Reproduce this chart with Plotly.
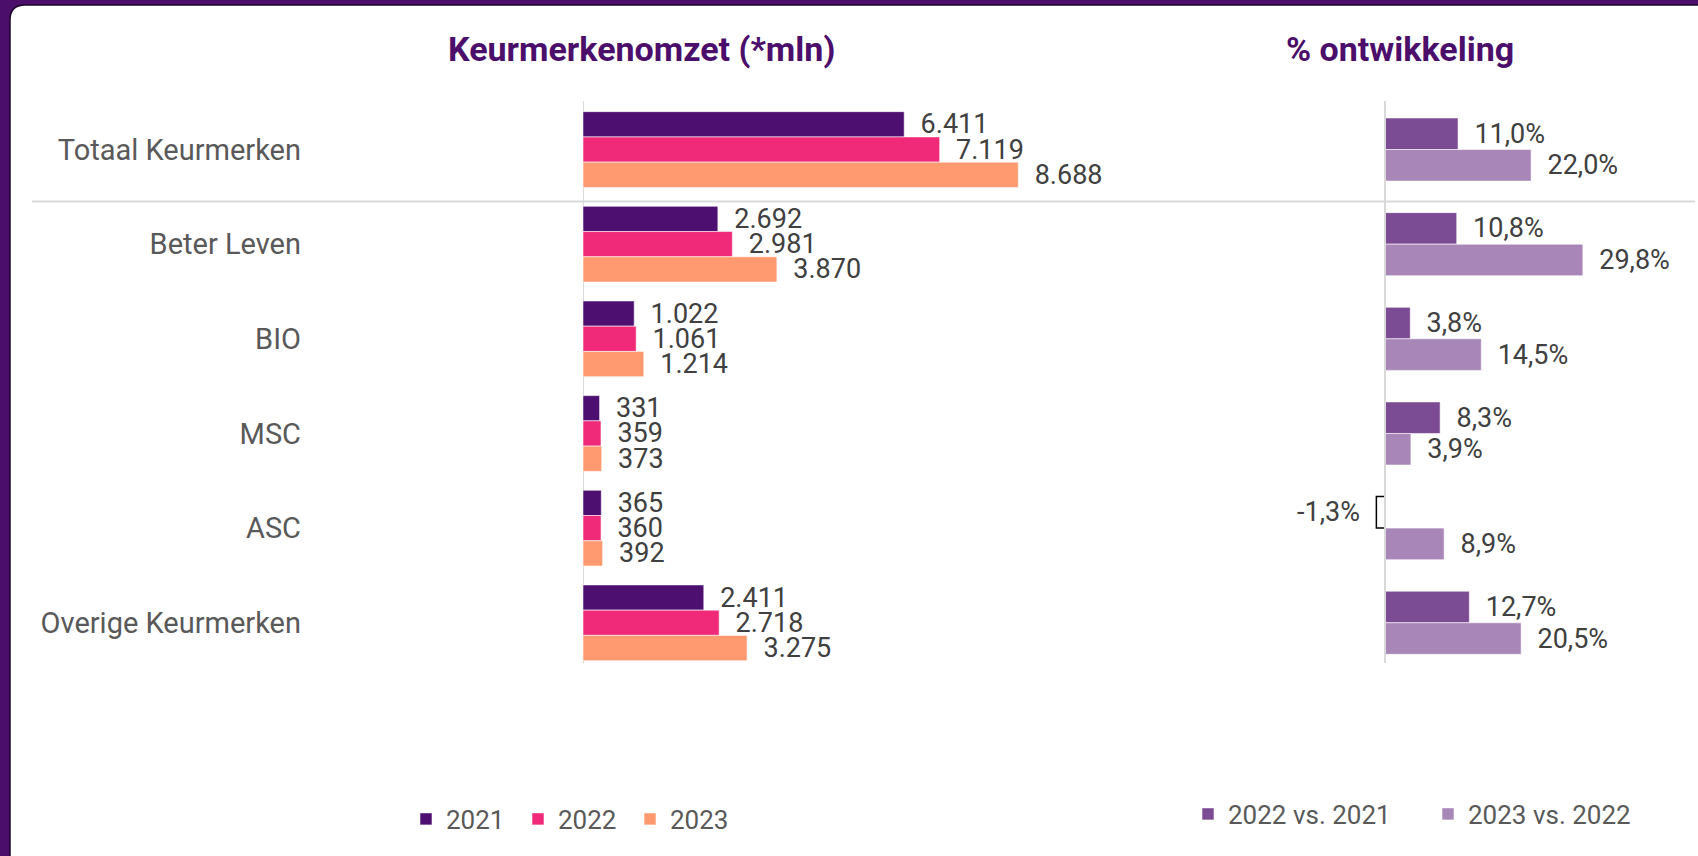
import plotly.graph_objects as go

# ---------------- data ----------------
categories = ["Totaal Keurmerken", "Beter Leven", "BIO", "MSC", "ASC", "Overige Keurmerken"]
omzet_2021 = [6411, 2692, 1022, 331, 365, 2411]
omzet_2022 = [7119, 2981, 1061, 359, 360, 2718]
omzet_2023 = [8688, 3870, 1214, 373, 392, 3275]
ontw_22_21 = [11.0, 10.8, 3.8, 8.3, -1.3, 12.7]
ontw_23_22 = [22.0, 29.8, 14.5, 3.9, 8.9, 20.5]
series_left = ["2021", "2022", "2023"]
series_right = ["2022 vs. 2021", "2023 vs. 2022"]

# ---------------- style ----------------
W, H = 1698, 856
FONT = "Roboto"
PURPLE = "#4B0F6B"
COL_LEFT = ["#4D1070", "#F02A78", "#FF9A70"]
COL_RIGHT = ["#7B4B94", "#A887B8"]
LABEL = "#404040"
CATCOL = "#595959"
GRID = "#D9D9D9"
NB = "\u00a0\u00a0"


def px(x):
    return x / W


def py(y):
    return 1 - y / H


def fmt_int(v):
    return f"{v:,}".replace(",", ".")


def fmt_pct(v):
    s = f"{v:.1f}%".replace(".", ",")
    return s + NB if v < 0 else NB + s


# plot geometry (pixels)
Y_TOP, Y_BOT = 102.2, 670.1
L_X0, L_X1, L_PPU = 583.0, 1250.0, 0.0501
R_AX, R_X0, R_X1, R_PPU = 1385.0, 1360.0, 1690.0, 6.64

fig = go.Figure()

# left panel bars
lw = 0.8 / 3
for i, (name, vals) in enumerate(zip(series_left, [omzet_2021, omzet_2022, omzet_2023])):
    fig.add_trace(go.Bar(
        name=name, y=categories, x=vals, orientation="h",
        xaxis="x", yaxis="y",
        width=lw, offset=-0.4 + i * lw,
        marker=dict(color=COL_LEFT[i], line=dict(color="rgba(255,255,255,0.55)", width=1)),
        text=[NB + fmt_int(v) for v in vals], textposition="outside",
        textfont=dict(family=FONT, size=27, color=LABEL),
        constraintext="none", cliponaxis=False, textangle=0,
        legend="legend", hoverinfo="x+y",
    ))

# right panel bars
rw = 1 / 3
for i, (name, vals) in enumerate(zip(series_right, [ontw_22_21, ontw_23_22])):
    fills = ["#FFFFFF" if v < 0 else COL_RIGHT[i] for v in vals]
    lines = ["#000000" if v < 0 else "rgba(255,255,255,0.55)" for v in vals]
    widths = [1.5 if v < 0 else 1 for v in vals]
    fig.add_trace(go.Bar(
        name=name, y=categories, x=vals, orientation="h",
        xaxis="x2", yaxis="y2",
        width=rw, offset=-rw + i * rw,
        marker=dict(color=fills, line=dict(color=lines, width=widths)),
        text=[fmt_pct(v) for v in vals], textposition="outside",
        textfont=dict(family=FONT, size=27, color=LABEL),
        constraintext="none", cliponaxis=False, textangle=0,
        legend="legend2", hoverinfo="x+y",
    ))

shapes = [
    # white card with rounded top-left corner
    dict(type="path", xref="paper", yref="paper", layer="below",
         path=(f"M {px(10)},{py(880)} L {px(10)},{py(20)} Q {px(10)},{py(5)} {px(25)},{py(5)} "
               f"L {px(1720)},{py(5)} L {px(1720)},{py(880)} Z"),
         fillcolor="#FFFFFF", line=dict(color="#1A0526", width=1.5)),
    # separator below totals
    dict(type="line", xref="paper", yref="paper", layer="below",
         x0=px(32), x1=px(1695), y0=py(201.5), y1=py(201.5),
         line=dict(color=GRID, width=2)),
    # value axes (zero lines)
    dict(type="line", xref="x", yref="paper", layer="below",
         x0=0, x1=0, y0=py(101), y1=py(663), line=dict(color=GRID, width=2)),
    dict(type="line", xref="x2", yref="paper", layer="above",
         x0=0, x1=0, y0=py(101), y1=py(663), line=dict(color=GRID, width=2)),
]

annotations = [
    dict(text="<b>Keurmerkenomzet (*mln)</b>", x=px(641), y=py(49), xref="paper", yref="paper",
         xanchor="center", yanchor="middle", showarrow=False,
         font=dict(family=FONT, size=34, color=PURPLE)),
    dict(text="<b>% ontwikkeling</b>", x=px(1400), y=py(49), xref="paper", yref="paper",
         xanchor="center", yanchor="middle", showarrow=False,
         font=dict(family=FONT, size=34, color=PURPLE)),
]

fig.update_layout(
    width=W, height=H,
    margin=dict(l=0, r=0, t=0, b=0, autoexpand=False),
    paper_bgcolor=PURPLE, plot_bgcolor="rgba(0,0,0,0)",
    barmode="overlay",
    font=dict(family=FONT, color=CATCOL),
    shapes=shapes, annotations=annotations,
    xaxis=dict(domain=[px(L_X0), px(L_X1)], range=[0, (L_X1 - L_X0) / L_PPU],
               visible=False, fixedrange=True),
    yaxis=dict(domain=[py(Y_BOT), py(Y_TOP)], type="category", categoryarray=categories,
               autorange="reversed", anchor="x", showgrid=False, zeroline=False, showline=False,
               ticks="", ticklabelstandoff=281,
               tickfont=dict(family=FONT, size=29, color=CATCOL)),
    xaxis2=dict(domain=[px(R_X0), px(R_X1)],
                range=[(R_X0 - R_AX) / R_PPU, (R_X1 - R_AX) / R_PPU],
                visible=False, anchor="y2"),
    yaxis2=dict(domain=[py(Y_BOT), py(Y_TOP)], type="category", categoryarray=categories,
                autorange="reversed", anchor="x2", showgrid=False, zeroline=False,
                showline=False, showticklabels=False, ticks=""),
    legend=dict(orientation="h", x=px(406), y=py(819), xanchor="left", yanchor="middle",
                font=dict(family=FONT, size=26, color=CATCOL), bgcolor="rgba(0,0,0,0)",
                entrywidth=67, traceorder="normal"),
    legend2=dict(orientation="h", x=px(1188), y=py(814), xanchor="left", yanchor="middle",
                 font=dict(family=FONT, size=26, color=CATCOL), bgcolor="rgba(0,0,0,0)",
                 entrywidth=195, traceorder="normal"),
    showlegend=True,
)

fig.write_html(
    "out.html",
    config={"displayModeBar": False},
    post_script="document.body.style.margin='0';document.body.style.overflow='hidden';",
)
